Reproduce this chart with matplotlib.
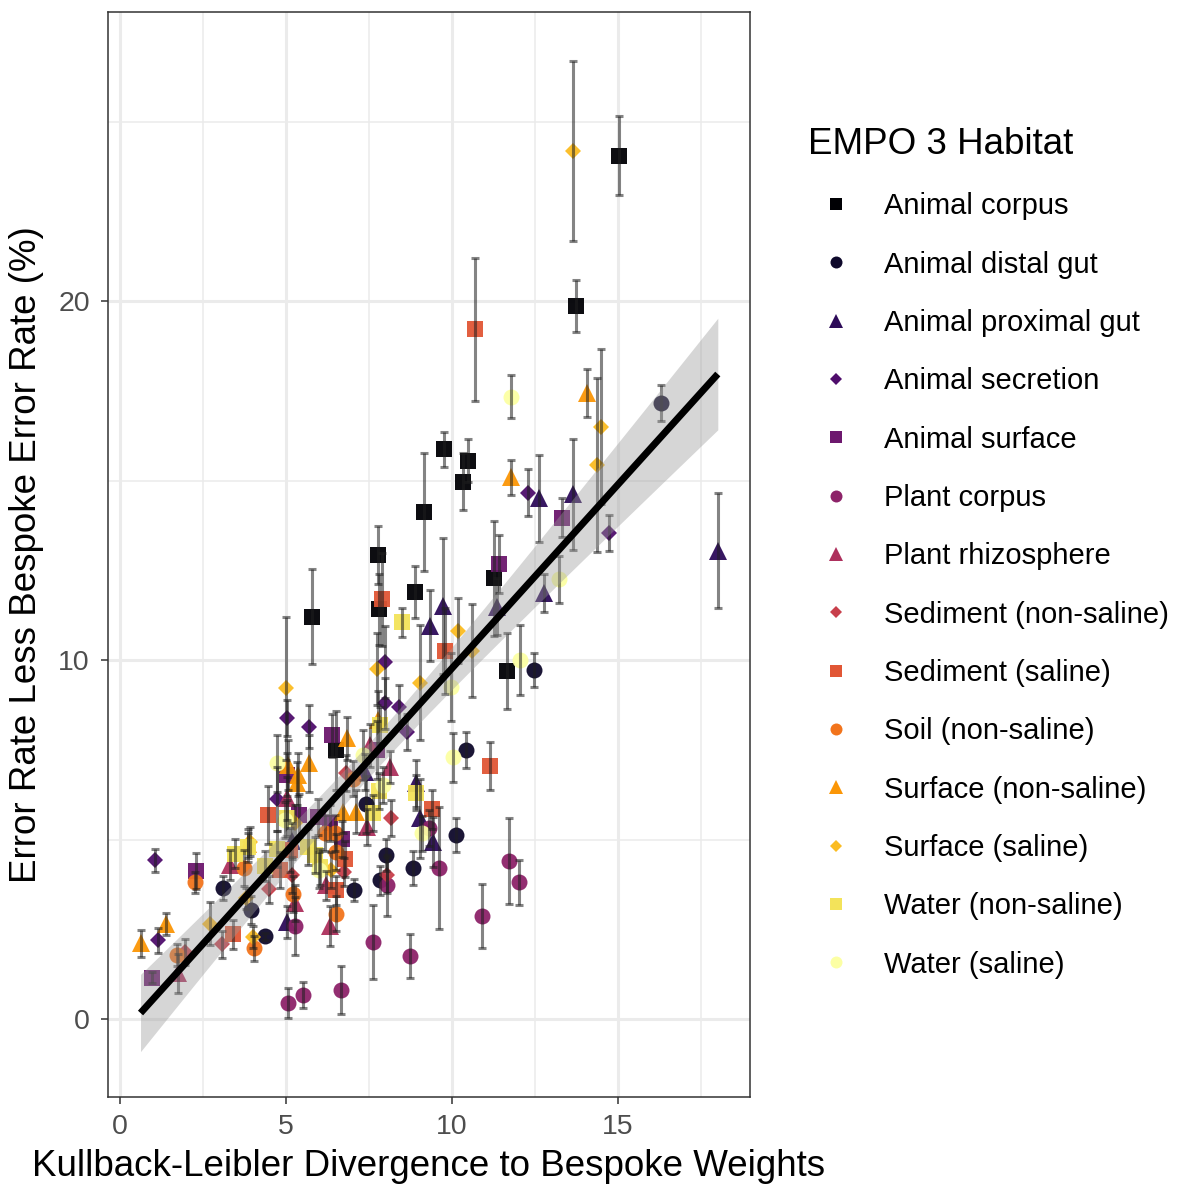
import numpy as np
import matplotlib
matplotlib.use("Agg")
import matplotlib.pyplot as plt
from matplotlib.lines import Line2D

plt.rcParams['font.family'] = ['Liberation Sans', 'DejaVu Sans']

# EMPO 3 habitats, in legend order
habitats = [
    'Animal corpus', 'Animal distal gut', 'Animal proximal gut', 'Animal secretion',
    'Animal surface', 'Plant corpus', 'Plant rhizosphere', 'Sediment (non-saline)',
    'Sediment (saline)', 'Soil (non-saline)', 'Surface (non-saline)', 'Surface (saline)',
    'Water (non-saline)', 'Water (saline)',
]
markers = ['s', 'o', '^', 'D'] * 4

# KL divergence to bespoke weights, one list per habitat
kl_div = [
    [15.04, 13.74, 9.77, 10.49, 10.34, 9.16, 7.78, 5.78, 7.81, 8.89, 11.26, 11.65, 6.51],
    [16.30, 12.47, 10.42, 10.12, 8.83, 8.01, 7.83, 7.05, 7.40, 3.09, 3.95, 4.37],
    [18.01, 13.65, 12.63, 12.78, 11.37, 9.72, 9.34, 9.04, 9.44, 8.92, 7.38, 5.02, 5.17],
    [14.73, 12.30, 7.98, 7.98, 8.41, 5.70, 5.02, 8.64, 1.05, 1.15, 4.72],
    [13.33, 11.41, 0.98, 2.29, 6.38, 7.75, 5.40, 5.97, 6.33, 6.70, 5.04],
    [11.73, 12.03, 10.90, 8.73, 7.63, 6.65, 5.52, 5.05, 9.62, 8.05, 9.32, 5.27],
    [1.74, 3.31, 5.04, 7.53, 8.13, 7.43, 6.33, 5.27, 6.22],
    [1.96, 3.06, 4.50, 6.81, 8.18, 8.05, 6.76, 5.17],
    [10.70, 7.88, 9.79, 11.14, 9.41, 4.47, 3.41, 4.82, 5.12, 6.78, 6.51],
    [1.73, 2.26, 3.73, 4.04, 5.20, 6.51, 6.51, 7.03, 6.48, 6.17],
    [14.08, 11.78, 0.62, 1.38, 3.87, 5.07, 5.37, 5.32, 5.70, 6.83, 7.78, 6.73, 7.11],
    [13.65, 14.49, 14.36, 5.00, 7.75, 9.05, 10.19, 10.62, 2.71, 3.81, 4.00, 6.37, 3.92, 5.27],
    [8.51, 8.92, 3.87, 4.37, 4.72, 7.83, 7.81, 7.63, 5.67, 5.87, 6.02, 3.46, 5.02],
    [11.79, 13.23, 12.05, 9.97, 10.02, 9.09, 7.33, 4.72, 4.97, 7.93, 6.00],
]

# error rate less bespoke error rate (%)
err_rate = [
    [24.04, 19.86, 15.87, 15.55, 14.97, 14.13, 12.92, 11.21, 11.41, 11.89, 12.28, 9.70, 7.49],
    [17.17, 9.72, 7.49, 5.13, 4.20, 4.57, 3.87, 3.59, 5.98, 3.66, 3.04, 2.31],
    [13.04, 14.62, 14.50, 11.86, 11.49, 11.50, 10.96, 5.59, 4.94, 6.57, 6.87, 2.71, 4.95],
    [13.54, 14.66, 9.95, 8.79, 8.70, 8.14, 8.38, 7.99, 4.43, 2.20, 6.13],
    [13.96, 12.67, 1.15, 4.13, 7.91, 7.49, 5.68, 5.64, 5.45, 5.02, 6.80],
    [4.40, 3.81, 2.87, 1.75, 2.15, 0.81, 0.67, 0.44, 4.20, 3.73, 5.31, 2.59],
    [1.27, 4.29, 6.15, 7.63, 7.03, 5.36, 2.59, 3.24, 3.73],
    [1.87, 2.08, 3.61, 6.86, 5.59, 4.01, 4.10, 4.01],
    [19.21, 11.69, 10.26, 7.05, 5.84, 5.68, 2.36, 4.15, 4.71, 4.45, 3.59],
    [1.78, 3.81, 4.20, 1.97, 3.48, 2.94, 4.66, 6.70, 5.19, 5.19],
    [17.43, 15.09, 2.11, 2.65, 4.89, 7.08, 6.80, 6.57, 7.12, 7.82, 8.33, 5.77, 5.77],
    [24.18, 16.50, 15.43, 9.21, 9.74, 9.37, 10.82, 10.26, 2.65, 3.36, 2.28, 4.15, 4.94, 5.46],
    [11.05, 6.31, 4.78, 4.26, 4.73, 8.19, 6.36, 5.73, 4.80, 4.57, 4.24, 4.61, 5.59],
    [17.33, 12.25, 10.00, 9.24, 7.29, 5.17, 7.35, 7.12, 5.54, 6.52, 4.15],
]

# half width of the error bars
err_half = [
    [1.10, 0.72, 0.48, 0.60, 0.80, 1.65, 0.80, 1.33, 1.00, 0.72, 1.60, 1.05, 1.10],
    [0.50, 0.47, 0.50, 0.47, 0.47, 0.45, 0.40, 0.30, 0.80, 0.33, 0.40, 0.10],
    [1.60, 1.55, 1.20, 0.53, 0.80, 1.90, 0.98, 1.10, 0.70, 0.65, 0.50, 0.45, 0.50],
    [0.50, 0.65, 1.00, 0.70, 0.60, 0.60, 0.50, 0.50, 0.32, 0.35, 0.90],
    [0.54, 0.80, 0.15, 0.50, 0.60, 0.80, 0.60, 0.50, 0.50, 0.50, 0.60],
    [1.20, 0.62, 0.90, 0.61, 1.02, 0.66, 0.35, 0.42, 1.70, 0.85, 0.50, 0.80],
    [0.55, 0.42, 0.60, 0.60, 0.45, 0.50, 0.55, 0.50, 0.40],
    [0.36, 0.37, 0.37, 0.50, 0.50, 0.50, 0.40, 0.50],
    [2.00, 1.30, 1.20, 0.67, 0.55, 0.80, 0.40, 0.50, 0.60, 0.50, 0.40],
    [0.30, 0.30, 0.50, 0.35, 0.50, 0.50, 0.50, 0.50, 0.50, 0.50],
    [0.67, 0.48, 0.37, 0.30, 0.40, 0.70, 0.60, 0.60, 0.80, 0.60, 0.80, 0.60, 0.60],
    [2.50, 2.16, 2.42, 2.00, 1.00, 1.60, 0.90, 1.30, 0.60, 0.30, 0.30, 0.50, 0.40, 0.50],
    [0.40, 0.50, 0.40, 0.42, 0.50, 0.50, 0.50, 0.50, 0.50, 0.50, 0.50, 0.40, 0.50],
    [0.60, 0.65, 0.97, 0.95, 0.68, 0.50, 0.70, 0.80, 0.50, 0.50, 0.50],
]

colors = plt.cm.inferno(np.linspace(0, 1, len(habitats)))
marker_size = {'s': 11, 'o': 11.5, '^': 13, 'D': 8}

fig = plt.figure(figsize=(11.77, 11.87), dpi=100)
ax = fig.add_axes([108 / 1177, 1 - 1097 / 1187, 642 / 1177, 1085 / 1187])

# points
for i, name in enumerate(habitats):
    m = markers[i]
    ax.plot(kl_div[i], err_rate[i], linestyle='none', marker=m, ms=marker_size[m],
            color=colors[i], markeredgewidth=0, alpha=0.95, zorder=3)

# error bars on top of points
x_all = np.concatenate([np.array(v) for v in kl_div])
y_all = np.concatenate([np.array(v) for v in err_rate])
h_all = np.concatenate([np.array(v) for v in err_half])
ax.errorbar(x_all, y_all, yerr=h_all, fmt='none', ecolor=(0.12, 0.12, 0.12, 0.55),
            elinewidth=2.2, capsize=3, capthick=2.2, zorder=4)

# linear fit with 95% confidence band
slope, intercept = np.polyfit(x_all, y_all, 1)
n = len(x_all)
resid = y_all - (slope * x_all + intercept)
s = np.sqrt(np.sum(resid ** 2) / (n - 2))
xg = np.linspace(x_all.min(), x_all.max(), 100)
se = s * np.sqrt(1 / n + (xg - x_all.mean()) ** 2 / np.sum((x_all - x_all.mean()) ** 2))
fit = slope * xg + intercept
ax.fill_between(xg, fit - 1.976 * se, fit + 1.976 * se, color='#999999', alpha=0.4,
                linewidth=0, zorder=5)
ax.plot(xg, fit, color='black', linewidth=5, zorder=6, solid_capstyle='butt')

# axes styling (theme_bw-like)
ax.set_xlim(-0.36, 18.98)
ax.set_ylim(-2.17, 28.05)
ax.set_xticks([0, 5, 10, 15])
ax.set_yticks([0, 10, 20])
ax.set_xticks([2.5, 7.5, 12.5, 17.5], minor=True)
ax.set_yticks([5, 15, 25], minor=True)
ax.grid(which='major', color='#EBEBEB', linewidth=2.2, zorder=0)
ax.grid(which='minor', color='#EBEBEB', linewidth=1.1, zorder=0)
ax.set_axisbelow(True)
for sp in ax.spines.values():
    sp.set_color('#333333')
    sp.set_linewidth(1.1)
ax.tick_params(which='major', length=5, width=1.1, color='#333333', labelsize=20.5,
               labelcolor='#4D4D4D')
ax.tick_params(axis='x', pad=7)
ax.tick_params(axis='y', pad=8)
ax.tick_params(which='minor', length=0)
ax.set_xlabel('Kullback-Leibler Divergence to Bespoke Weights', fontsize=26.5, labelpad=7)
ax.set_ylabel('Error Rate Less Bespoke Error Rate (%)', fontsize=26.5, labelpad=10)

# legend
handles = [Line2D([], [], linestyle='none', marker=markers[i],
                  ms=marker_size[markers[i]] * 0.75, color=colors[i], markeredgewidth=0)
           for i in range(len(habitats))]
leg = fig.legend(handles, habitats, loc='upper left', bbox_to_anchor=(808 / 1177, 1 - 127 / 1187),
                 frameon=False, fontsize=21, title='EMPO 3 Habitat', title_fontsize=26.5,
                 alignment='left', labelspacing=1.04, handlelength=1.92, handletextpad=0.68,
                 borderpad=0, borderaxespad=0)

fig.savefig('out.png', dpi=100)
